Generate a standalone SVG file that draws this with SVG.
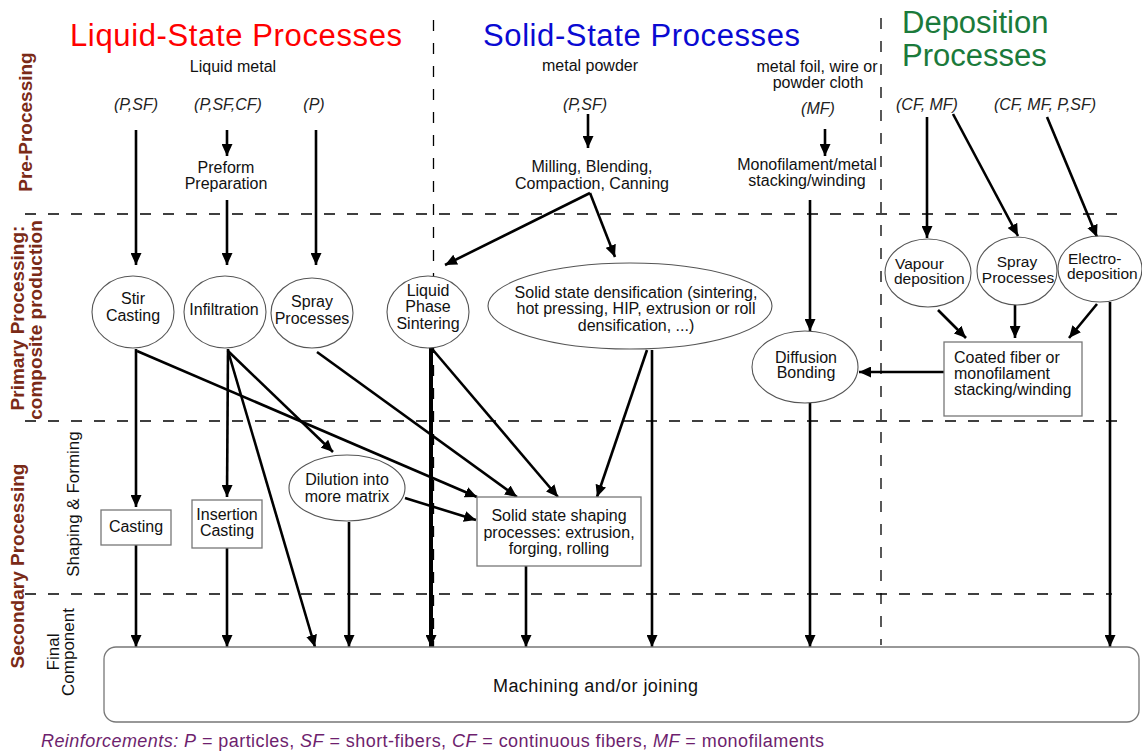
<svg xmlns="http://www.w3.org/2000/svg" width="1142" height="754" viewBox="0 0 1142 754">
<defs>
<marker id="ah" markerUnits="userSpaceOnUse" markerWidth="12" markerHeight="11" refX="12" refY="5.5" orient="auto"><path d="M0,0 L12,5.5 L0,11 z" fill="#000"/></marker>
</defs>
<style>
text{font-family:"Liberation Sans",Arial,sans-serif;fill:#111}
.t{font-size:16px;text-anchor:middle}
.tl{font-size:16px}
.it{font-style:italic;font-size:16px;text-anchor:middle;fill:#222}
.title{font-size:31px}
.side{font-size:19px;font-weight:bold;fill:#7a2a17;text-anchor:middle}
.sub{font-size:17px;text-anchor:middle}
.node{fill:#fff;stroke:#555;stroke-width:1.1}
.box{fill:#fff;stroke:#777;stroke-width:1.3}
.dash{stroke:#000;stroke-width:1.3;stroke-dasharray:11 12;fill:none}
.c{stroke:#000;stroke-width:2.6;fill:none;marker-end:url(#ah)}
</style>
<rect width="1142" height="754" fill="#fff"/>

<g id="dividers">
<line class="dash" x1="25" y1="214" x2="1127" y2="214"/>
<line class="dash" x1="25" y1="421" x2="1127" y2="421"/>
<line class="dash" x1="25" y1="594" x2="1112" y2="594"/>
<line class="dash" x1="433.5" y1="20" x2="433.5" y2="647"/>
<line class="dash" x1="881" y1="18" x2="881" y2="645"/>
</g>

<g id="titles">
<text class="title" x="70" y="46" fill="#ff0000" style="fill:#ff0000" textLength="332">Liquid-State Processes</text>
<text class="title" x="483" y="46" style="fill:#0a0ad2" textLength="317">Solid-State Processes</text>
<text class="title" x="902" y="33" style="fill:#1b7a3b">Deposition</text>
<text class="title" x="902" y="66" style="fill:#1b7a3b">Processes</text>
</g>

<g id="stage-labels">
<text class="side" transform="translate(32,122) rotate(-90)">Pre-Processing</text>
<text class="side" transform="translate(24,318) rotate(-90)">Primary Processing:</text>
<text class="side" transform="translate(42,320) rotate(-90)">composite production</text>
<text class="side" transform="translate(24,566) rotate(-90)">Secondary Processing</text>
<text class="sub" transform="translate(79,504) rotate(-90)">Shaping &amp; Forming</text>
<text class="sub" transform="translate(59,652) rotate(-90)">Final</text>
<text class="sub" transform="translate(74,652) rotate(-90)">Component</text>
</g>

<g id="inputs">
<text class="t" x="233" y="72">Liquid metal</text>
<text class="it" x="136" y="110">(P,SF)</text>
<text class="it" x="228" y="110">(P,SF,CF)</text>
<text class="it" x="314" y="110">(P)</text>
<text class="t" x="590" y="71">metal powder</text>
<text class="it" x="585" y="110">(P,SF)</text>
<text class="t" x="817" y="72">metal foil, wire or</text>
<text class="t" x="818" y="88">powder cloth</text>
<text class="it" x="818" y="114">(MF)</text>
<text class="it" x="927" y="110">(CF, MF)</text>
<text class="it" x="1045" y="110">(CF, MF, P,SF)</text>
</g>

<g id="preform">
<text class="t" x="226" y="173">Preform</text>
<text class="t" x="226" y="189">Preparation</text>
</g>
<g id="milling">
<text class="t" x="592" y="172">Milling, Blending,</text>
<text class="t" x="592" y="189">Compaction, Canning</text>
</g>
<g id="monofilament">
<text class="t" x="807" y="170">Monofilament/metal</text>
<text class="t" x="807" y="186">stacking/winding</text>
</g>

<g id="connectors">
<line class="c" x1="136" y1="130" x2="136" y2="265"/>
<line class="c" x1="227" y1="130" x2="227" y2="156"/>
<line class="c" x1="227" y1="200" x2="227" y2="265"/>
<line class="c" x1="316" y1="130" x2="316" y2="265"/>
<line class="c" x1="588" y1="114" x2="588" y2="148"/>
<line class="c" x1="590" y1="193" x2="445" y2="265"/>
<line class="c" x1="590" y1="193" x2="615" y2="257"/>
<line class="c" x1="825" y1="129" x2="825" y2="156"/>
<line class="c" x1="810" y1="200" x2="810" y2="331"/>
<line class="c" x1="810" y1="403" x2="810" y2="647"/>
<line class="c" x1="927" y1="117" x2="927" y2="238"/>
<line class="c" x1="953" y1="114" x2="1018" y2="236"/>
<line class="c" x1="1047" y1="117" x2="1097" y2="237"/>
<line class="c" x1="938" y1="310" x2="966" y2="338"/>
<line class="c" x1="1015" y1="305" x2="1015" y2="338"/>
<line class="c" x1="1097" y1="304" x2="1069" y2="338"/>
<line class="c" x1="944" y1="372" x2="859" y2="372"/>
<line class="c" x1="1110" y1="302" x2="1110" y2="647"/>
<line class="c" x1="136" y1="349" x2="136" y2="507"/>
<line class="c" x1="136" y1="545" x2="136" y2="647"/>
<line class="c" x1="137" y1="351" x2="477" y2="497"/>
<line class="c" x1="228" y1="349" x2="227" y2="497"/>
<line class="c" x1="228" y1="351" x2="333" y2="452"/>
<line class="c" x1="228" y1="351" x2="315" y2="647"/>
<line class="c" x1="227" y1="548" x2="227" y2="647"/>
<line class="c" x1="317" y1="352" x2="517" y2="497"/>
<line class="c" x1="431" y1="348" x2="431" y2="647" style="stroke-width:4"/>
<line class="c" x1="433" y1="350" x2="558" y2="497"/>
<line class="c" x1="647" y1="350" x2="597" y2="497"/>
<line class="c" x1="652" y1="350" x2="652" y2="647"/>
<line class="c" x1="405" y1="498" x2="476" y2="520"/>
<line class="c" x1="349" y1="522" x2="349" y2="647"/>
<line class="c" x1="526" y1="566" x2="526" y2="647"/>
</g>

<g id="stir-casting">
<ellipse class="node" cx="133" cy="312" rx="41" ry="36"/>
<text class="t" x="133" y="304">Stir</text>
<text class="t" x="133" y="321">Casting</text>
</g>
<g id="infiltration">
<ellipse class="node" cx="225" cy="312" rx="41" ry="36"/>
<text class="t" x="224" y="315">Infiltration</text>
</g>
<g id="spray-liquid">
<ellipse class="node" cx="312" cy="313" rx="41" ry="35"/>
<text class="t" x="312" y="307">Spray</text>
<text class="t" x="312" y="324">Processes</text>
</g>
<g id="liquid-phase-sintering">
<ellipse class="node" cx="428" cy="312" rx="41" ry="36"/>
<text class="t" x="428" y="296">Liquid</text>
<text class="t" x="428" y="312">Phase</text>
<text class="t" x="428" y="329">Sintering</text>
</g>
<g id="solid-densification">
<ellipse class="node" cx="630" cy="306" rx="142" ry="43"/>
<text class="t" x="636" y="298">Solid state densification (sintering,</text>
<text class="t" x="636" y="314">hot pressing, HIP, extrusion or roll</text>
<text class="t" x="636" y="331">densification, ...)</text>
</g>
<g id="diffusion-bonding">
<ellipse class="node" cx="805" cy="367" rx="53" ry="36"/>
<text class="t" x="806" y="363">Diffusion</text>
<text class="t" x="806" y="378">Bonding</text>
</g>
<g id="vapour-deposition">
<ellipse class="node" cx="928" cy="273" rx="43" ry="34"/>
<text class="tl" x="895" y="269" style="font-size:15.5px">Vapour</text>
<text class="tl" x="894" y="284" style="font-size:15.5px">deposition</text>
</g>
<g id="spray-deposition">
<ellipse class="node" cx="1017" cy="271" rx="40" ry="34"/>
<text class="t" x="1017" y="267" style="font-size:15.5px">Spray</text>
<text class="t" x="1018" y="283" style="font-size:15.5px">Processes</text>
</g>
<g id="electro-deposition">
<ellipse class="node" cx="1100" cy="269" rx="42" ry="33"/>
<text class="tl" x="1068" y="264" style="font-size:15.5px">Electro-</text>
<text class="tl" x="1067" y="279" style="font-size:15.5px">deposition</text>
</g>
<g id="coated-fiber">
<rect class="box" x="944" y="342" width="138" height="74"/>
<text class="tl" x="954" y="363">Coated fiber or</text>
<text class="tl" x="954" y="379">monofilament</text>
<text class="tl" x="954" y="395">stacking/winding</text>
</g>
<g id="casting">
<rect class="box" x="101" y="510" width="70" height="35"/>
<text class="t" x="136" y="532">Casting</text>
</g>
<g id="insertion-casting">
<rect class="box" x="192" y="500" width="70" height="48"/>
<text class="t" x="227" y="520">Insertion</text>
<text class="t" x="227" y="536">Casting</text>
</g>
<g id="dilution">
<ellipse class="node" cx="347" cy="488" rx="58" ry="33"/>
<text class="t" x="347" y="485">Dilution into</text>
<text class="t" x="347" y="502">more matrix</text>
</g>
<g id="solid-shaping">
<rect class="box" x="477" y="497" width="164" height="69"/>
<text class="t" x="559" y="521">Solid state shaping</text>
<text class="t" x="559" y="538">processes: extrusion,</text>
<text class="t" x="559" y="554">forging, rolling</text>
</g>
<g id="machining">
<rect class="box" x="104" y="647" width="1035" height="75" rx="12"/>
<text class="tl" x="493" y="692" style="font-size:18px" textLength="205">Machining and/or joining</text>
</g>

<g id="legend">
<text x="41" y="747" style="font-size:18px;fill:#6e1f6e" textLength="783"><tspan font-style="italic">Reinforcements: P</tspan> = particles, <tspan font-style="italic">SF</tspan> = short-fibers, <tspan font-style="italic">CF</tspan> = continuous fibers, <tspan font-style="italic">MF</tspan> = monofilaments</text>
</g>
</svg>
